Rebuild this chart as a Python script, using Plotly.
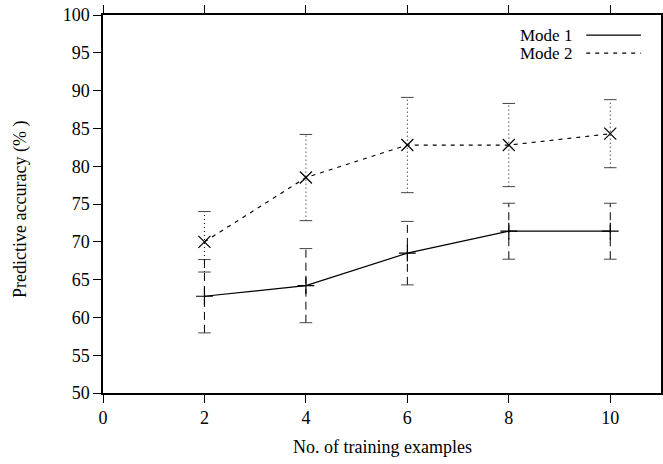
import plotly.graph_objects as go

x_vals = [2, 4, 6, 8, 10]
mode1_mean = [62.8, 64.2, 68.5, 71.4, 71.4]
mode1_err = [4.85, 4.9, 4.2, 3.7, 3.7]
mode2_mean = [70.0, 78.5, 82.8, 82.8, 84.3]
mode2_err = [4.0, 5.7, 6.3, 5.5, 4.5]

x_ticks = [0, 2, 4, 6, 8, 10]
y_ticks = [50, 55, 60, 65, 70, 75, 80, 85, 90, 95, 100]

FONT = "Liberation Serif"
FS = 18
fig = go.Figure()


def err_traces(xs, means, errs, dash):
    ex, ey = [], []
    cx, cy = [], []
    for x, m, e in zip(xs, means, errs):
        ex += [x, x, None]
        ey += [m - e, m + e, None]
        cx += [x, x]
        cy += [m - e, m + e]
    fig.add_trace(go.Scatter(x=ex, y=ey, mode="lines", showlegend=False,
                             line=dict(color="black", width=1, dash=dash), hoverinfo="skip"))
    fig.add_trace(go.Scatter(x=cx, y=cy, mode="markers", showlegend=False,
                             marker=dict(symbol="line-ew-open", size=9, color="#444",
                                         line=dict(color="#444", width=1)), hoverinfo="skip"))


err_traces(x_vals, mode1_mean, mode1_err, "8px,5px")
err_traces(x_vals, mode2_mean, mode2_err, "1px,3px")

fig.add_trace(go.Scatter(x=x_vals, y=mode1_mean, mode="lines+markers", name="Mode 1",
                         line=dict(color="black", width=1.2),
                         marker=dict(symbol="cross-thin-open", size=12, color="black",
                                     line=dict(color="black", width=1.2)),
                         showlegend=False))
fig.add_trace(go.Scatter(x=x_vals, y=mode2_mean, mode="lines+markers", name="Mode 2",
                         line=dict(color="black", width=1.2, dash="4px,5px"),
                         marker=dict(symbol="x-thin-open", size=12, color="black",
                                     line=dict(color="black", width=1.2)),
                         showlegend=False))

axis_common = dict(showgrid=False, zeroline=False, linecolor="black", linewidth=1.5,
                   tickcolor="black", tickwidth=1.2, ticklen=8, automargin=False,
                   ticklabeloverflow="allow", ticks="outside", mirror="ticks",
                   showline=True,
                   tickfont=dict(family=FONT, size=FS, color="black"))

fig.update_layout(
    width=663, height=464,
    margin=dict(l=103, r=2, t=15, b=71),
    plot_bgcolor="white", paper_bgcolor="white",
    font=dict(family=FONT, size=FS, color="black"),
    xaxis=dict(range=[0, 11], tickvals=x_ticks, **axis_common),
    yaxis=dict(range=[50, 100], tickvals=y_ticks, **axis_common),
)

# axis titles
fig.add_annotation(xref="paper", yref="paper", x=0.5, y=-0.143, yanchor="middle",
                   text="No. of training examples", showarrow=False,
                   font=dict(family=FONT, size=FS, color="black"))
fig.add_annotation(xref="paper", yref="paper", x=-0.147, y=0.487, xanchor="center",
                   yanchor="middle",
                   text="Predictive accuracy (% )", showarrow=False, textangle=-90,
                   font=dict(family=FONT, size=FS, color="black"))

# legend drawn as text + key lines (key to the right of text, gnuplot style)
legend_items = [("Mode 1", "solid"), ("Mode 2", "4px,5px")]
for i, (label, dash) in enumerate(legend_items):
    yk = 0.947 - i * 0.048
    fig.add_annotation(xref="paper", yref="paper", x=0.842, y=yk, text=label,
                       showarrow=False, xanchor="right", yanchor="middle", borderpad=0,
                       font=dict(family=FONT, size=17, color="black"))
    fig.add_shape(type="line", xref="paper", yref="paper", x0=0.866, x1=0.964, y0=yk, y1=yk,
                  line=dict(color="black", width=1.2, dash=dash))

fig.write_html("out.html", config={"displayModeBar": False},
               post_script="document.body.style.margin='0';")
